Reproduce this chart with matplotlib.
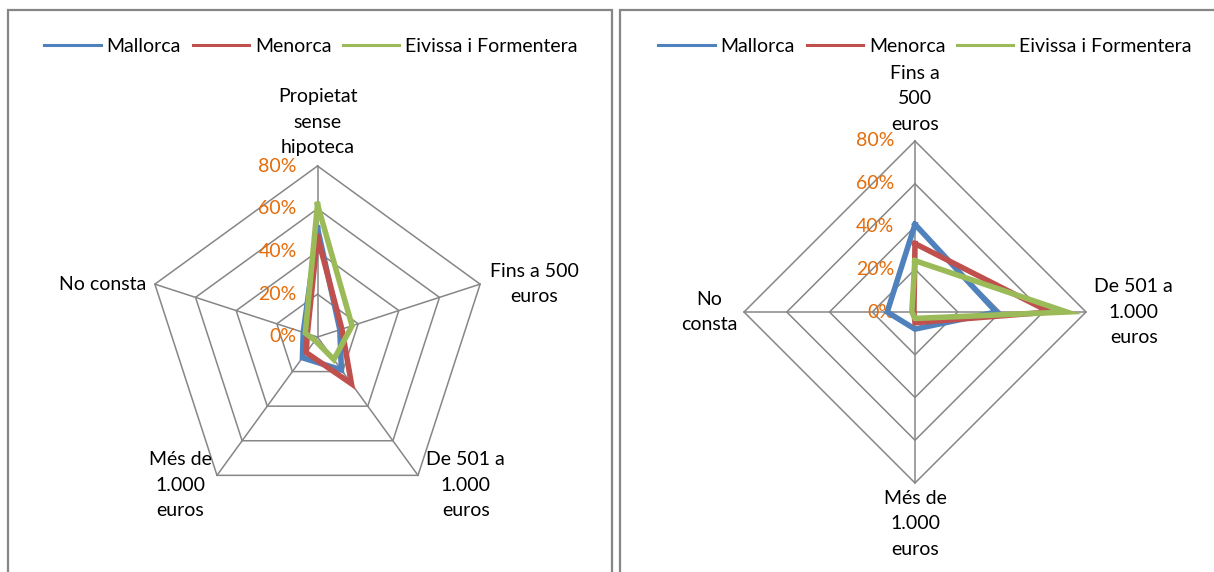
import matplotlib
matplotlib.use("Agg")
import matplotlib.pyplot as plt
import numpy as np
from matplotlib.patches import Rectangle

plt.rcParams["font.family"] = ["Lato", "DejaVu Sans"]

SERIES = ["Mallorca", "Menorca", "Eivissa i Formentera"]
COLORS = ["#4F81BD", "#C0504D", "#9BBB59"]

# left chart: tenure / monthly payment
LEFT_CATS = ["Propietat\nsense\nhipoteca", "Fins a 500\neuros", "De 501 a\n1.000\neuros",
             "Més de\n1.000\neuros", "No consta"]
LEFT_MALLORCA = [51, 11, 19, 12, 7]
LEFT_MENORCA = [47, 12, 27, 9, 5]
LEFT_EIVISSA = [62, 17, 13, 2, 6]

# right chart
RIGHT_CATS = ["Fins a\n500\neuros", "De 501 a\n1.000\neuros", "Més de\n1.000\neuros", "No\nconsta"]
RIGHT_MALLORCA = [41, 38, 8, 13]
RIGHT_MENORCA = [32, 63, 5, 0.5]
RIGHT_EIVISSA = [24, 71, 3, 1.5]

LEVELS = [0, 20, 40, 60, 80]
LEVEL_LABELS = ["0%", "20%", "40%", "60%", "80%"]

W, H = 1214, 572
GRID = "#868686"
TICK = "#E46C0A"
FS = 14


def make_axes(fig, box, center, rmax_px):
    x0, y0, x1, y1 = box  # pixel box, y measured from top
    cx, cy = center
    s = rmax_px / LEVELS[-1]
    ax = fig.add_axes([x0 / W, 1 - y1 / H, (x1 - x0) / W, (y1 - y0) / H])
    ax.set_xlim((x0 - cx) / s, (x1 - cx) / s)
    ax.set_ylim((cy - y1) / s, (cy - y0) / s)
    ax.axis("off")
    return ax


def draw_radar(ax, cats, values, offsets):
    n = len(cats)
    ang = np.deg2rad(90 - 360.0 / n * np.arange(n))
    ca, sa = np.cos(ang), np.sin(ang)
    for lv in LEVELS[1:]:
        ax.plot(np.append(lv * ca, lv * ca[0]), np.append(lv * sa, lv * sa[0]),
                color=GRID, lw=1.1, zorder=1)
    rmax = LEVELS[-1]
    for k in range(n):
        ax.plot([0, rmax * ca[k]], [0, rmax * sa[k]], color=GRID, lw=1.1, zorder=1)
    for lv, lab in zip(LEVELS, LEVEL_LABELS):
        ax.annotate(lab, xy=(0, lv), xytext=(-15, 0), textcoords="offset points",
                    ha="right", va="center", color=TICK, fontsize=FS, zorder=2)
    for vals, col in zip(values, COLORS):
        v = np.asarray(vals, dtype=float)
        ax.plot(np.append(v * ca, v[0] * ca[0]), np.append(v * sa, v[0] * sa[0]),
                color=col, lw=4, solid_joinstyle="miter", zorder=3)
    for k, (lab, (dx, dy, ha, va)) in enumerate(zip(cats, offsets)):
        ax.annotate(lab, xy=(rmax * ca[k], rmax * sa[k]), xytext=(dx, dy),
                    textcoords="offset points", ha=ha, va=va, multialignment="center",
                    fontsize=FS, linespacing=1.6, color="black", annotation_clip=False)


fig = plt.figure(figsize=(W / 100, H / 100), dpi=100)

# panel borders
for x0, x1 in [(8, 612), (620, 1230)]:
    fig.patches.append(Rectangle((x0 / W, -0.1), (x1 - x0) / W, 1 - 10 / H + 0.1,
                                 transform=fig.transFigure, fill=False,
                                 edgecolor=GRID, lw=1.6))

ax_l = make_axes(fig, (10, 10, 612, 572), (317.5, 337), 171)
draw_radar(ax_l, LEFT_CATS, [LEFT_MALLORCA, LEFT_MENORCA, LEFT_EIVISSA],
           [(0, 7, "center", "bottom"), (7, 0, "left", "center"),
            (6, -7, "left", "center"), (-4, -7, "right", "center"),
            (-6, 0, "right", "center")])

ax_r = make_axes(fig, (620, 10, 1214, 572), (915, 312), 171)
draw_radar(ax_r, RIGHT_CATS, [RIGHT_MALLORCA, RIGHT_MENORCA, RIGHT_EIVISSA],
           [(0, 6, "center", "bottom"), (6, 0, "left", "center"),
            (0, -5, "center", "top"), (-5, 0, "right", "center")])

for ax, cx in [(ax_l, 311), (ax_r, 925)]:
    handles = [plt.Line2D([], [], color=c, lw=2.2) for c in COLORS]
    ax.legend(handles, SERIES, loc="center", bbox_to_anchor=(cx / W, 1 - 46 / H),
              bbox_transform=fig.transFigure, ncol=3, frameon=False, fontsize=FS,
              handlelength=2.9, handletextpad=0.3, columnspacing=0.6)

fig.savefig("out.png", dpi=100)
